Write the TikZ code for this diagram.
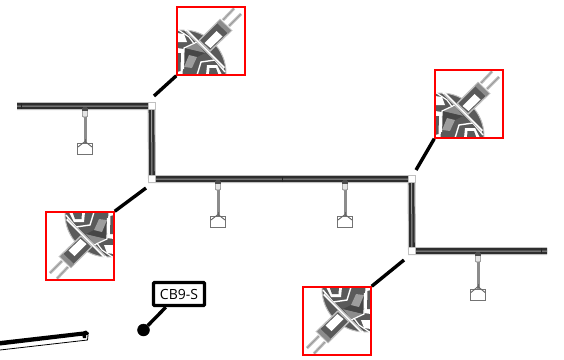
\documentclass[tikz,border=0pt]{standalone}
\usepackage{fontspec}
\setmainfont{Open Sans}
\usepackage{xcolor}
\usetikzlibrary{calc}
\definecolor{hub-dark}{HTML}{5A5A5A}
\definecolor{hub-mid}{HTML}{8C8C8C}
\definecolor{halo-gray}{HTML}{C0C0C0}
\tikzset{
    track-outer/.style = {draw=halo-gray, line width=8pt},
    track-inner/.style = {draw=black!82, line width=5.6pt},
    track-core/.style = {draw=gray!80, line width=1pt},
    joint-box/.style = {draw=halo-gray, fill=white, line width=0.6pt, rectangle, minimum size=7pt, inner sep=0pt},
    tray-box/.style = {draw=black!55, fill=white, line width=0.8pt, rectangle, minimum width=15.5pt, minimum height=11pt, inner sep=0pt},
    hanger-stem/.style = {draw=black!45, line width=3pt},
    inset-box/.style = {draw=red, line width=1.5pt, rectangle, minimum size=68pt, inner sep=0pt},
    leader-line/.style = {draw=black, line width=3.4pt},
    tag-box/.style = {draw=black, fill=white, line width=3.4pt, rectangle, rounded corners=1pt, minimum width=51pt, minimum height=23pt, inner sep=0pt, font=\fontsize{14}{16}\selectfont},
    inset-view/.pic = {
        \begin{scope}
        \clip (0,0) rectangle (68,68);
        % hub
        \draw[fill=hub-dark, draw=halo-gray, line width=1pt] (6,66) circle (43);
        \fill[white] (0,26) -- (7,27) -- (10,35) -- (0,35) -- cycle;
        \draw[white, line width=1.2pt] (0,22) -- (12,30) -- (18,38);
        \fill[white] (0,41) -- (7,42) -- (5.5,68) -- (0,68) -- cycle;
        \fill[hub-dark] (0,46) -- (4,46) -- (3.5,64) -- (0,65) -- cycle;
        \fill[hub-mid] (7,41) -- (20,36) -- (28,46) -- cycle;
        \fill[black!72] (7,41) -- (28,46) -- (20,50) -- (15,61) -- (7,60) -- cycle;
        \fill[hub-mid!85] (7,60) -- (12,48) -- (20,50) -- (15,61) -- cycle;
        \draw[white, line width=1.2pt] (6.5,62) -- (7,41) -- (20,35);
        \draw[white, line width=1.4pt] (20,68) -- (24,55) -- (38,53) -- (48,65);
        \fill[white] (30,58) -- (40,58) -- (45,68) -- (29,68) -- cycle;
        \fill[hub-dark] (32.5,61) -- (39,61) -- (41.5,68) -- (32,68) -- cycle;
        % connector
        \draw[white, line width=2.6pt] (8,22) -- (47,61);
        \draw[halo-gray, line width=0.8pt] (9,24) -- (46,61);
        \foreach \px/\py/\qx/\qy in {46/13/57/1.5, 52/19/64/7} {
            \draw[halo-gray, line width=3pt] (\px,\py) -- (\qx,\qy);
            \draw[black!40, line width=0.8pt] (\px,\py) -- (\qx,\qy);
        }
        \draw[fill=hub-dark, draw=halo-gray, line width=1.4pt] (22,33.5) -- (43,12.5) -- (54.5,23.5) -- (33,44) -- cycle;
        \fill[hub-mid] (40,16) -- (43,13) -- (54,23.5) -- (51,26.5) -- cycle;
        \fill[white] (27.5,36) -- (39.5,24) -- (45.5,29.5) -- (33.5,41) -- cycle;
        \end{scope}
    },
}

\begin{document}
\begin{tikzpicture}[x=1pt, y=-1pt]
\useasboundingbox (0,0) rectangle (564,359);

% track joints and free ends
\coordinate (end-a) at (17,106);
\node[joint-box] (joint-a) at (151.5,106) {};
\node[joint-box] (joint-b) at (152,179) {};
\node[joint-box] (joint-c) at (411.5,179) {};
\node[joint-box] (joint-d) at (412,251) {};
\coordinate (end-b) at (547,251);

\foreach \layer in {track-outer, track-inner, track-core}
    \draw[\layer] (end-a) -- (joint-a.center) -- (joint-b.center) -- (joint-c.center) -- (joint-d.center) -- (end-b);
\foreach \joint in {a,b,c,d}
    \node[joint-box] at (joint-\joint) {};
\fill[black!85] (281.5,176.5) rectangle (282.5,181.5);
\fill[black!85] (21,103) rectangle (22,109);
\fill[black!85] (541,248) rectangle (542,254);

% hangers
\foreach \name/\x/\y/\h in {one/85/106/43, two/218/179/43, three/345/179/43, four/478/251/43.5} {
    \coordinate (hook-\name) at (\x,\y+3);
    \node[tray-box] (tray-\name) at (\x,\y+\h) {};
    \draw[hanger-stem] (hook-\name) -- (tray-\name.north);
    \draw[draw=gray, fill=white!80!gray, line width=0.6pt, rounded corners=1pt] (\x-2.6,\y+2) rectangle (\x+2.6,\y+11);
    \fill[black!70] (\x-2.6,\y+2) rectangle (\x+2.6,\y+5);
    \draw[black!60, line width=0.9pt] ($(tray-\name.north west)+(1,4)$) -- (\x,\y+35.5) -- ($(tray-\name.north east)+(-1,4)$);
    \draw[black!60, line width=1pt] (\x,\y+33) -- (\x,\y+37);
}

% close-ups
\pic at (177,7) {inset-view};
\pic at (435,70) {inset-view};
\pic[rotate=180] at (114,280) {inset-view};
\pic[rotate=180] at (371,355) {inset-view};
\node[inset-box] (inset-top) at (211,41) {};
\node[inset-box] (inset-right) at (469,104) {};
\node[inset-box] (inset-left) at (80,246) {};
\node[inset-box] (inset-bottom) at (337,321) {};

% leaders
\coordinate (lead-top) at (154,96);
\coordinate (lead-right) at (416,170);
\coordinate (lead-left) at (146,188);
\coordinate (lead-bottom) at (404,260);
\draw[leader-line] (inset-top.south west) -- (lead-top);
\draw[leader-line] (inset-right.south west) -- (lead-right);
\draw[leader-line] (inset-left.north east) -- (lead-left);
\draw[leader-line] (inset-bottom.north east) -- (lead-bottom);

% tag
\node[tag-box] (tag-cb) at (179,294) {CB9-S\hspace{5pt}};
\node[draw=black, fill=black, circle, minimum size=12pt, inner sep=0pt] (tag-dot) at (143.5,330) {};
\draw[line width=3.4pt] ($(tag-cb.south west)+(14,0)$) -- (tag-dot);

% beam at the lower edge
\fill[black] (0,341) -- (83,331.5) -- (86,330.5) -- (89,333) -- (88,335) -- (0,345.5) -- cycle;
\draw[black, line width=0.8pt] (88,335) -- (87.5,340) -- (0,350);
\fill[black] (82,334) -- (86,334) -- (86,338) -- (83,338) -- cycle;
\end{tikzpicture}
\end{document}
